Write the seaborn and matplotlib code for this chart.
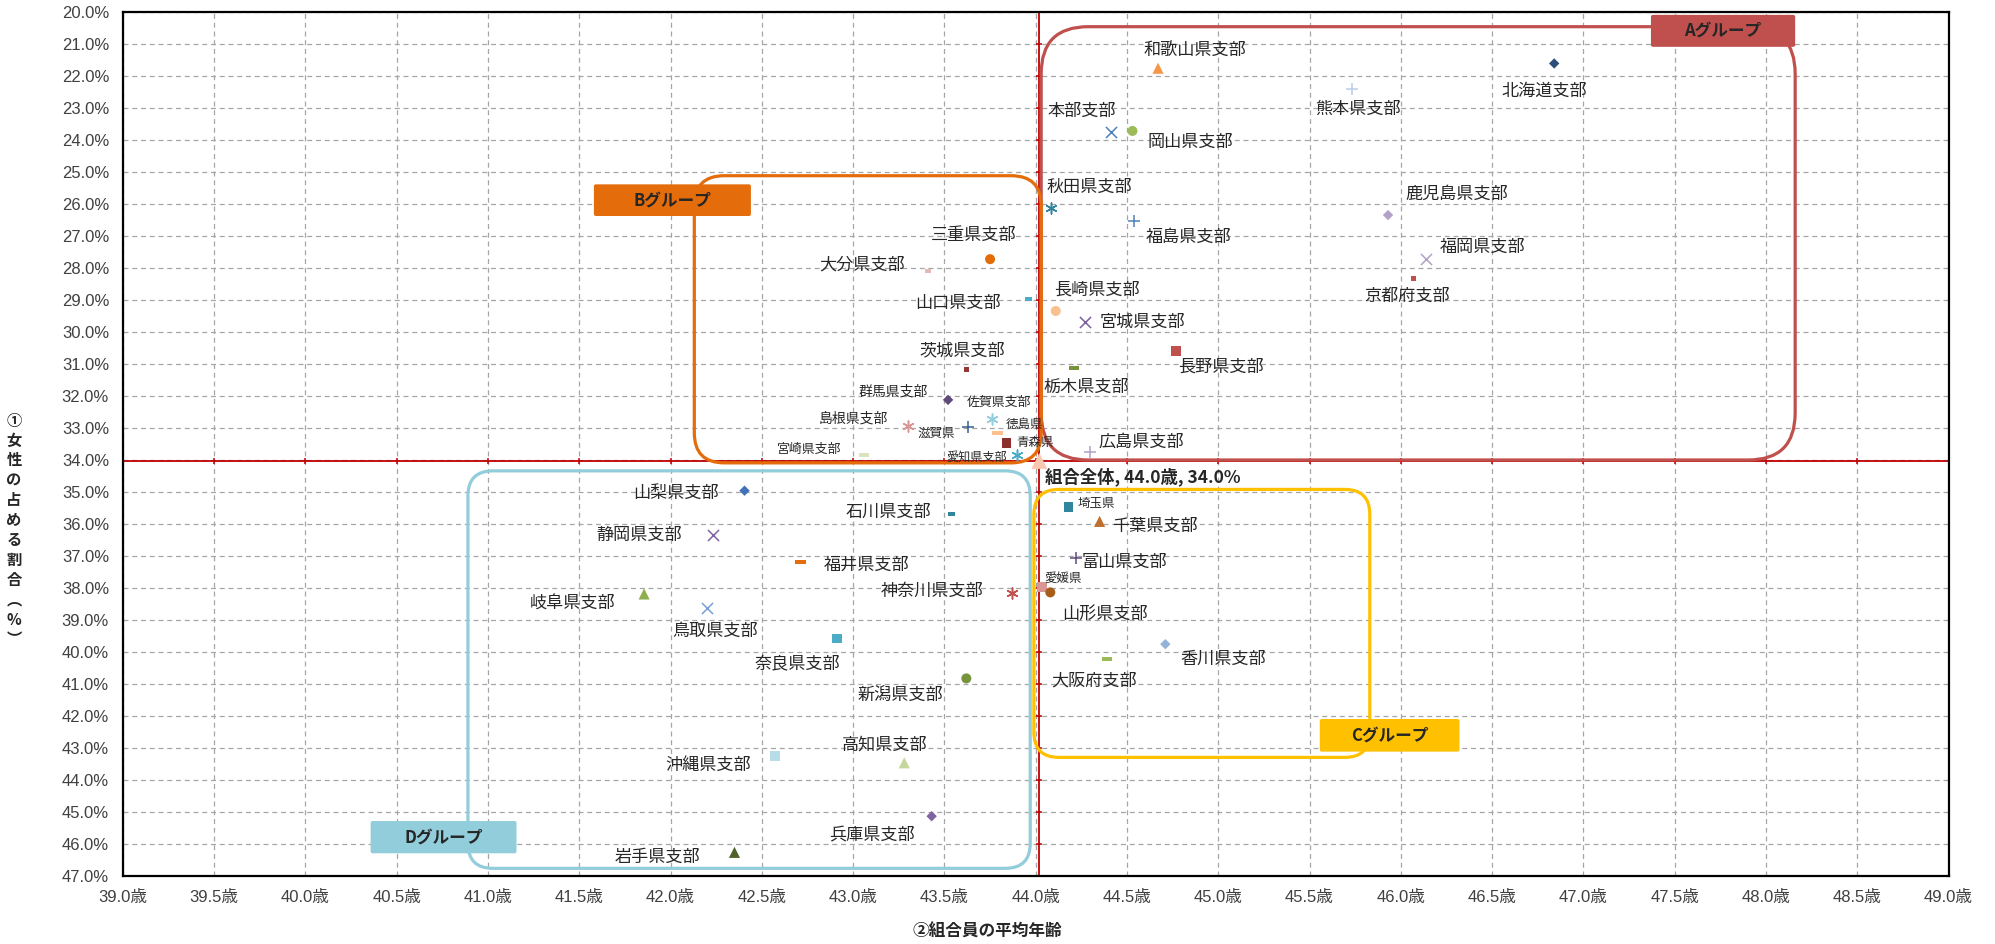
import matplotlib
matplotlib.use("Agg")
import matplotlib.pyplot as plt
import seaborn as sns
import numpy as np
import pandas as pd
from matplotlib.patches import FancyBboxPatch
from matplotlib.transforms import IdentityTransform

# ------------------------------------------------------------------ data
branches = ["北海道支部", "和歌山県支部", "本部支部", "岡山県支部", "熊本県支部", "秋田県支部",
            "福島県支部", "鹿児島県支部", "福岡県支部", "京都府支部", "三重県支部", "大分県支部",
            "山口県支部", "長崎県支部", "宮城県支部", "長野県支部", "茨城県支部", "栃木県支部",
            "群馬県支部", "佐賀県支部", "島根県支部", "滋賀県", "徳島県", "青森県",
            "愛知県支部", "宮崎県支部", "広島県支部", "山梨県支部", "静岡県支部", "石川県支部",
            "福井県支部", "神奈川県支部", "鳥取県支部", "奈良県支部", "新潟県支部", "沖縄県支部",
            "高知県支部", "兵庫県支部", "岩手県支部", "岐阜県支部", "埼玉県", "千葉県支部",
            "富山県支部", "愛媛県", "山形県支部", "香川県支部", "大阪府支部"]
avg_age = [46.84, 44.67, 44.41, 44.53, 45.73, 44.085, 44.54, 45.93, 46.14, 46.07,
           43.75, 43.41, 43.96, 44.11, 44.27, 44.77, 43.62, 44.21, 43.52, 43.76,
           43.30, 43.63, 43.79, 43.84, 43.90, 43.06, 44.30, 42.405, 42.23, 43.54,
           42.71, 43.87, 42.20, 42.91, 43.62, 42.57, 43.28, 43.43, 42.35, 41.855,
           44.18, 44.35, 44.22, 44.035, 44.08, 44.71, 44.39]
female_ratio = [21.60, 21.75, 23.73, 23.71, 22.39, 26.13, 26.53, 26.34, 27.71, 28.32,
                27.72, 28.08, 28.97, 29.34, 29.67, 30.58, 31.16, 31.13, 32.12, 32.73,
                32.94, 32.97, 33.17, 33.47, 33.85, 33.83, 33.74, 34.96, 36.34, 35.69,
                37.18, 38.17, 38.62, 39.58, 40.83, 43.26, 43.47, 45.14, 46.27, 38.19,
                35.46, 35.92, 37.08, 37.96, 38.14, 39.76, 40.23]
overall_name = "組合全体"
overall_age = 44.02
overall_ratio = 34.03

x_ticks = [39.0, 39.5, 40.0, 40.5, 41.0, 41.5, 42.0, 42.5, 43.0, 43.5, 44.0,
           44.5, 45.0, 45.5, 46.0, 46.5, 47.0, 47.5, 48.0, 48.5, 49.0]
y_ticks = list(range(20, 48))
x_tick_labels = [f"{v:.1f}歳" for v in x_ticks]
y_tick_labels = [f"{v:.1f}%" for v in y_ticks]
x_label = "②組合員の平均年齢"
y_label = "①女性の占める割合（%）"

group_names = ["Aグループ", "Bグループ", "Cグループ", "Dグループ"]
group_age_span = [(44.03, 48.16), (42.13, 44.03), (43.99, 45.83), (40.89, 43.97)]
group_ratio_span = [(20.45, 34.00), (25.11, 34.09), (34.92, 43.30), (34.34, 46.77)]

# ------------------------------------------------------------------ styles
marker_kind = ["D", "^", "x", "o", "+", "*", "+", "D", "x", "ss",
               "o", "sd", "sd", "o", "x", "s", "ss", "-", "D", "*",
               "*", "+", "-", "s", "*", "-", "+", "D", "x", "sd",
               "-", "*", "x", "s", "o", "s", "^", "D", "^", "^",
               "s", "^", "+", "s", "o", "D", "-"]
marker_color = ["#2C4F7C", "#F79646", "#4F81BD", "#9BBB59", "#B9CDE5", "#31859C",
                "#4F81BD", "#B3A2C7", "#B3A2C7", "#C0504D", "#E46C0A", "#E6B9B8",
                "#4BACC6", "#FAC090", "#7A5FA0", "#C0504D", "#953735", "#77933C",
                "#604A7B", "#93CDDD", "#D99694", "#376092", "#FAC090", "#8B2E2E",
                "#4BACC6", "#D7E4BD", "#B3A2C7", "#3F72B8", "#8064A2", "#31859C",
                "#E46C0A", "#C0504D", "#7A9FD6", "#4BACC6", "#77933C", "#B7DEE8",
                "#C3D69B", "#8064A2", "#4F6228", "#8EB04C", "#31859C", "#C0702E",
                "#604A7B", "#D99694", "#A65E1C", "#95B3D7", "#9BBB59"]
# label offsets in pixels (dx, dy up)
label_offset = [(-10, -27), (37, 17), (-29, 21), (58, -11), (6, -20), (38, 21),
                (54, -16), (69, 21), (56, 12), (-7, -17), (-16, 24), (-66, 6),
                (-70, -4), (41, 21), (57, 0), (45, -16), (-4, 19), (12, -19),
                (-55, 8), (7, 17), (-55, 8), (-32, -6), (27, 9), (29, 1),
                (-41, -2), (-55, 5), (51, 10), (-69, -2), (-73, 0), (-63, 2),
                (66, -3), (-80, 2), (8, -23), (-39, -26), (-66, -16), (-66, -9),
                (-20, 18), (-60, -19), (-77, -4), (-72, -10), (28, 3), (55, -4),
                (49, -3), (21, 8), (55, -21), (58, -15), (-13, -21)]
small_labels = {"群馬県支部": 10, "島根県支部": 10, "佐賀県支部": 9.3, "宮崎県支部": 9.3,
                "愛知県支部": 8.7, "滋賀県": 9, "徳島県": 9, "青森県": 9, "埼玉県": 9, "愛媛県": 9}

dash = [(-1, -0.38), (1, -0.38), (1, 0.38), (-1, 0.38), (-1, -0.38)]
small_dash = [(-1, -0.6), (1, -0.6), (1, 0.6), (-1, 0.6), (-1, -0.6)]
MARKERS = {
    "D": ("D", 28, True), "s": ("s", 50, True), "ss": ("s", 14, True),
    "^": ("^", 64, True), "o": ("o", 52, True), "x": ("x", 64, False),
    "+": ("+", 64, False), "*": ((6, 2, 0), 64, False), "-": (dash, 60, True),
    "sd": (small_dash, 22, True),
}
group_colors = ["#C0504D", "#E46C0A", "#FFC000", "#92CDDC"]
group_radius = [47, 30, 25, 25]
group_label_age = [(47.37, 48.16), (41.58, 42.44), (45.556, 46.321), (40.357, 41.156)]
group_label_ratio = [(20.08, 21.08), (25.38, 26.37), (42.10, 43.12), (45.29, 46.30)]

# ------------------------------------------------------------------ figure
sns.set_style("white")
plt.rcParams["font.family"] = ["Liberation Sans", "Noto Sans CJK JP", "DejaVu Sans"]
CJK = ["Noto Sans CJK JP", "DejaVu Sans"]
TXT = "#262626"

fig = plt.figure(figsize=(19.95, 9.44), dpi=100)
ax = fig.add_axes([0.0616, 0.07235, 0.9151, 0.91462])

df = pd.DataFrame({"branch": branches, "age": avg_age, "ratio": female_ratio})

ax.set_xlim(39.0, 49.0)
ax.set_ylim(47.0, 20.0)
ax.set_xticks(x_ticks)
ax.set_xticklabels(x_tick_labels)
ax.set_yticks(y_ticks)
ax.set_yticklabels(y_tick_labels)
ax.tick_params(axis="both", length=0, labelsize=12, labelcolor="#404040")
ax.tick_params(axis="y", pad=10)
ax.tick_params(axis="x", pad=10)
ax.grid(True, linestyle=(0, (4, 3)), color="#A6A6A6", lw=0.9)
ax.set_axisbelow(True)
for sp in ax.spines.values():
    sp.set_visible(True)
    sp.set_color("black")
    sp.set_linewidth(1.6)
    sp.set_zorder(5)

# average cross lines (axes crossing at overall values)
ax.axvline(overall_age, color="#C00000", lw=1.3, zorder=1.5)
ax.axhline(overall_ratio, color="#C00000", lw=1.3, zorder=1.5)
ax.plot(x_ticks, [overall_ratio] * len(x_ticks), ls="none", marker="|", ms=5,
        mew=1.1, color="#C00000", zorder=1.5)
ax.plot([overall_age] * len(y_ticks), y_ticks, ls="none", marker="_", ms=5,
        mew=1.1, color="#C00000", zorder=1.5)

# points
for i, row in df.iterrows():
    m, s, filled = MARKERS[marker_kind[i]]
    kw = dict(edgecolor="none", linewidth=0) if filled else dict(linewidth=1.1)
    sns.scatterplot(x=[row["age"]], y=[row["ratio"]], marker=m, s=s,
                    color=marker_color[i], ax=ax, legend=False, zorder=3, **kw)
sns.scatterplot(x=[overall_age], y=[overall_ratio], marker="^", s=130,
                color="#F9C6AE", edgecolor="none", linewidth=0, ax=ax,
                legend=False, zorder=3)

# labels
for i, row in df.iterrows():
    fs = small_labels.get(row["branch"], 12.3)
    ax.annotate(row["branch"], xy=(row["age"], row["ratio"]), xytext=label_offset[i],
                textcoords="offset pixels", ha="center", va="center",
                fontsize=fs, color=TXT, family=CJK, zorder=4)
ax.annotate(f"{overall_name}, {overall_age:.1f}歳, {overall_ratio:.1f}%",
            xy=(overall_age, overall_ratio), xytext=(103, -16),
            textcoords="offset pixels", ha="center", va="center",
            fontsize=12.5, fontweight="bold", color=TXT, family=CJK, zorder=4)

# group boxes (drawn in pixel space so corners are round)
fig.canvas.draw()
for g in range(4):
    (a0, a1), (r0, r1) = group_age_span[g], group_ratio_span[g]
    p0 = ax.transData.transform((a0, r1))
    p1 = ax.transData.transform((a1, r0))
    box = FancyBboxPatch((p0[0], p0[1]), p1[0] - p0[0], p1[1] - p0[1],
                         boxstyle=f"round,pad=0,rounding_size={group_radius[g]}",
                         transform=IdentityTransform(), fill=False,
                         ec=group_colors[g], lw=2.3, zorder=2, clip_on=False)
    ax.add_artist(box)
    (la0, la1), (lr0, lr1) = group_label_age[g], group_label_ratio[g]
    q0 = ax.transData.transform((la0, lr1))
    q1 = ax.transData.transform((la1, lr0))
    lab = FancyBboxPatch((q0[0], q0[1]), q1[0] - q0[0], q1[1] - q0[1],
                         boxstyle="round,pad=0,rounding_size=2",
                         transform=IdentityTransform(), fc=group_colors[g],
                         ec="none", zorder=4.5, clip_on=False)
    ax.add_artist(lab)
    ax.text((q0[0] + q1[0]) / 2, (q0[1] + q1[1]) / 2, group_names[g],
            transform=IdentityTransform(), ha="center", va="center", fontsize=12,
            fontweight="bold", color=TXT, family=CJK, zorder=4.6)

# axis titles
fig.text(987.5 / 1995, 1 - 932 / 944, x_label, ha="center", va="center",
         fontsize=12, fontweight="bold", color=TXT, family=CJK)
vert = y_label.replace("（", "︵").replace("）", "︶")
fig.text(14 / 1995, 1 - 530 / 944, "\n".join(vert), ha="center", va="center",
         fontsize=11, fontweight="bold", color=TXT, family=CJK, linespacing=1.3)

fig.savefig("out.png", dpi=100)
